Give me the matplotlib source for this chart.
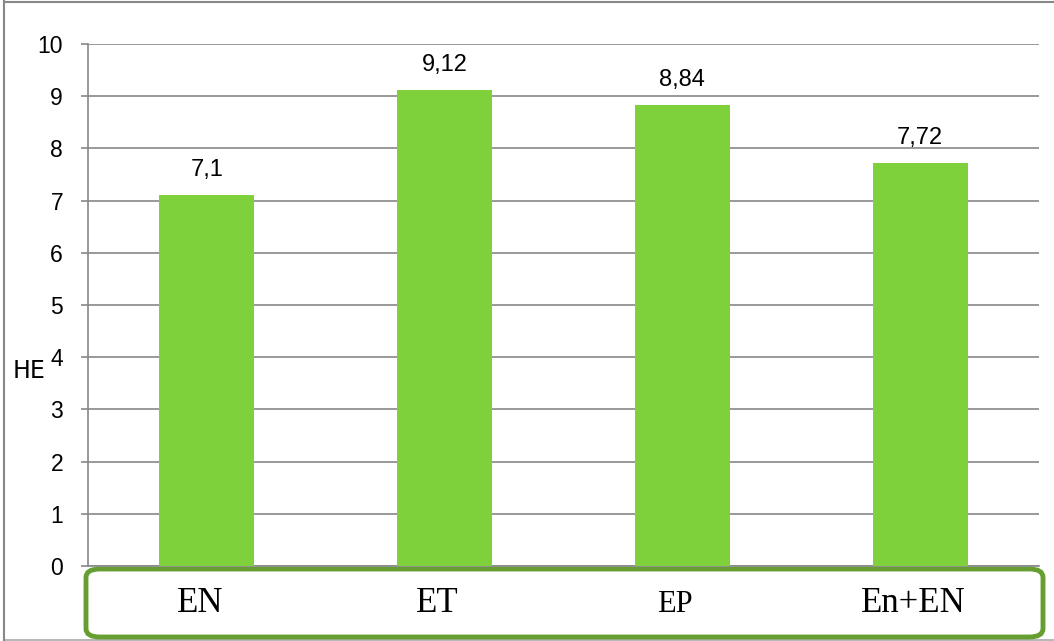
import matplotlib
matplotlib.use("Agg")
import matplotlib.pyplot as plt
from matplotlib.patches import FancyBboxPatch
from matplotlib.lines import Line2D
import matplotlib.transforms as mtransforms

categories = ["EN", "ET", "EP", "En+EN"]
values = [7.1, 9.12, 8.84, 7.72]
value_labels = ["7,1", "9,12", "8,84", "7,72"]
cat_sizes = [25, 25, 22, 25]
yticks = list(range(0, 11))

W, H = 1054, 641
fig = plt.figure(figsize=(W / 100, H / 100), dpi=100)
fig.patch.set_facecolor("white")

ax = fig.add_axes([88 / W, 1 - 566 / H, 951 / W, 522 / H])
ax.set_zorder(2)
ax.patch.set_alpha(0)
x = list(range(len(categories)))
ax.bar(x, values, width=0.4, color="#7fd13b", zorder=3)
ax.set_xlim(-0.5, len(categories) - 0.5)
ax.set_ylim(0, 10)
ax.set_yticks(yticks)
ax.set_yticklabels([str(t) for t in yticks], fontsize=16.5, family="Liberation Sans")
ax.tick_params(axis="y", length=5, color="#888888", width=1.2, pad=13)
ax.set_xticks([])
ax.grid(axis="y", color="#888888", linewidth=1.2, zorder=0)
for s in ["top", "right"]:
    ax.spines[s].set_visible(False)
for s in ["left", "bottom"]:
    ax.spines[s].set_color("#888888")
    ax.spines[s].set_linewidth(1.2)

for xi, v, lab in zip(x, values, value_labels):
    ax.annotate(lab, (xi, v), xytext=(0, 10), textcoords="offset points",
                ha="center", va="bottom", fontsize=17, family="Liberation Sans")

# y-axis label
fig.text(29 / W, 1 - 371 / H, "HE", fontsize=17, family="Liberation Sans Narrow",
         ha="center", va="center")

# green rounded box for category labels
box = FancyBboxPatch((86 / W, 1 - 637 / H), 957 / W, 68 / H,
                     boxstyle="round,pad=0,rounding_size=0.013",
                     transform=fig.transFigure, facecolor="white",
                     edgecolor="#669e31", linewidth=3.5, zorder=1)
fig.patches.append(box)

trans = mtransforms.blended_transform_factory(ax.transData, fig.transFigure)
for xi, c, fs in zip(x, categories, cat_sizes):
    ax.text(xi - 0.03, 1 - 604 / H, c, transform=trans, ha="center", va="center",
            fontsize=fs, family="Liberation Serif", zorder=6, clip_on=False)

# outer border lines
fig.lines.append(Line2D([4 / W, 4 / W], [0.5 / H, 1 - 1 / H], transform=fig.transFigure,
                        color="#888888", linewidth=1.5))
fig.lines.append(Line2D([4 / W, 1], [1 - 1.5 / H, 1 - 1.5 / H], transform=fig.transFigure,
                        color="#888888", linewidth=1.5))
fig.lines.append(Line2D([4 / W, 1], [1.5 / H, 1.5 / H], transform=fig.transFigure,
                        color="#aaaaaa", linewidth=1.2, zorder=0))

fig.savefig("out.png", dpi=100, facecolor="white")
